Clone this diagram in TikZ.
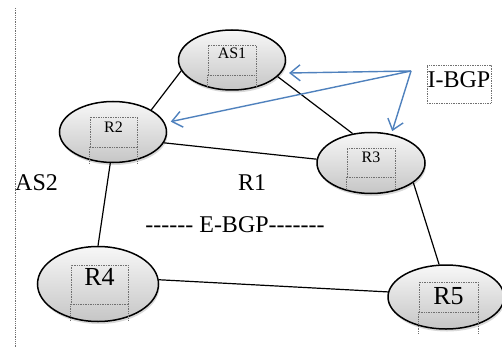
\documentclass[tikz,border=0pt]{standalone}
\usepackage{fontspec}
\setmainfont{Liberation Serif}[Ligatures=TeXOff]
\usetikzlibrary{arrows.meta, shapes.geometric, shadows}
\definecolor{ibgpblue}{HTML}{4F81BD}
\definecolor{boxgray}{HTML}{707070}

\begin{document}
\begin{tikzpicture}[
    x=1pt, y=-1pt,
    router/.style={ellipse, draw=black, line width=1.5pt, inner sep=0pt, top color=gray!6, bottom color=gray!45, drop shadow={opacity=0.3, shadow xshift=1pt, shadow yshift=-2.5pt}},
    tagbox/.style={draw=boxgray, densely dotted, line width=0.7pt, inner sep=0pt, font=\fontsize{16}{18}\selectfont},
    bigtag/.style={tagbox, font=\fontsize{26}{30}\selectfont},
    dotside/.style={draw=boxgray, densely dotted, line width=0.7pt},
    link/.style={line width=1.2pt},
    ibgp/.style={draw=ibgpblue, line width=1.4pt, -{Straight Barb[length=10pt, width=16pt]}},
    bigtext/.style={font=\fontsize{24}{28}\selectfont, inner sep=0pt},
]
\useasboundingbox (0,0) rectangle (502,358);

% AS border
\draw[dotside, line width=0.8pt] (15,8) -- (15,347);

% Routers
\node[router, minimum width=107pt, minimum height=60pt] (as1) at (232,60) {};
\node[router, minimum width=107pt, minimum height=61pt] (r2) at (113,132) {};
\node[router, minimum width=108pt, minimum height=61pt] (r3) at (371,163) {};
\node[router, minimum width=121pt, minimum height=75pt] (r4) at (98,284) {};
\node[router, minimum width=116pt, minimum height=64pt] (r5) at (446,297) {};

% Links
\draw[link] (as1.192) -- (r2.30);
\draw[link] (as1.-20) -- (r3.122);
\draw[link] (r2.-12) -- (r3.176);
\draw[link] (r2.-95) -- (r4.90);
\draw[link] (r3.-25) -- (r5.102);
\draw[link] (r4.4) -- (r5.175);

% Router tags
\node[tagbox, minimum width=48pt, minimum height=30pt, text depth=14pt] (as1t) at (232,60) {AS1};
\node[tagbox, minimum width=47pt, minimum height=30pt, text depth=10pt] (r2t) at (113.5,132) {R2};
\node[tagbox, minimum width=48pt, minimum height=29pt, text depth=10pt] (r3t) at (371,162.5) {R3};
\node[bigtag, minimum width=57pt, minimum height=39pt, text depth=15pt] (r4t) at (99.5,284.5) {R4};
\node[bigtag, minimum width=59pt, minimum height=30pt, text depth=3pt] (r5t) at (448.5,297) {R5};
\draw[dotside] (as1t.south west) -- ++(0,13) (as1t.south east) -- ++(0,13);
\draw[dotside] (r2t.south west) -- ++(0,16) (r2t.south east) -- ++(0,16);
\draw[dotside] (r3t.south west) -- ++(0,13) (r3t.south east) -- ++(0,13);
\draw[dotside] (r4t.south west) -- ++(0,16) (r4t.south east) -- ++(0,16);
\draw[dotside] (r5t.south west) -- ++(0,21) (r5t.south east) -- ++(0,21);

% Labels
\node[bigtext, anchor=west] (as2) at (15,183) {AS2};
\node[bigtext] (r1) at (252,183) {R1};
\node[bigtext] (ebgp) at (235,224.5) {------ E-BGP-------};
\node[tagbox, font=\fontsize{24}{28}\selectfont, minimum width=64pt, minimum height=38pt, text depth=8pt] (ibgp) at (459,84) {I-BGP};

% I-BGP sessions
\coordinate (fork) at (411,71);
\draw[ibgp, shorten >=8pt] (fork) -- (as1.-15);
\draw[ibgp, shorten >=6pt] (fork) -- (r2.10);
\draw[ibgp, shorten >=3pt] (fork) -- (r3.55);

\end{tikzpicture}
\end{document}
